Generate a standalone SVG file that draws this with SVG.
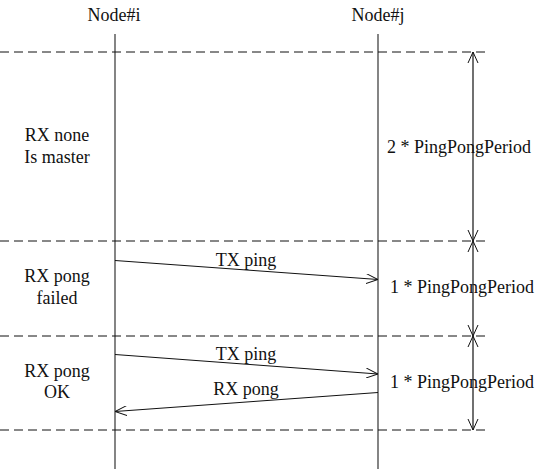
<svg xmlns="http://www.w3.org/2000/svg" width="539" height="469" viewBox="0 0 539 469" font-family="'Liberation Serif', serif">
<style>
text{font-family:'Liberation Serif',serif;font-size:18px;fill:#111}
.c{text-anchor:middle}
.life{stroke:#333;stroke-width:1.2;fill:none}
.dash{stroke:#111;stroke-width:1;stroke-dasharray:9,5;fill:none}
.msg{stroke:#111;stroke-width:1;fill:none;marker-end:url(#open)}
.dim{stroke:#111;stroke-width:1.2;fill:none}
.head{stroke:#111;stroke-width:1;fill:none}
</style>
<defs>
<marker id="open" viewBox="0 0 12 10" refX="12" refY="5" markerWidth="12" markerHeight="10" markerUnits="userSpaceOnUse" orient="auto">
<path d="M0,0 L12,5 L0,10" fill="none" stroke="#111" stroke-width="1"/>
</marker>
</defs>
<g id="node-i">
<text class="c" x="114" y="21">Node#i</text>
<line class="life" x1="115" y1="34" x2="115" y2="469"/>
</g>
<g id="node-j">
<text class="c" x="378" y="21">Node#j</text>
<line class="life" x1="378" y1="34" x2="378" y2="469"/>
</g>
<g id="separators">
<line class="dash" x1="0" y1="52" x2="489" y2="52"/>
<line class="dash" x1="0" y1="241" x2="489" y2="241"/>
<line class="dash" x1="0" y1="336" x2="489" y2="336"/>
<line class="dash" x1="0" y1="430" x2="489" y2="430"/>
</g>
<g id="period-dimension">
<line class="dim" x1="473" y1="52" x2="473" y2="430"/>
<path class="head" d="M468,63 L473,52 L478,63"/>
<path class="head" d="M468,230 L473,241 L478,230"/>
<path class="head" d="M468,252 L473,241 L478,252"/>
<path class="head" d="M468,325 L473,336 L478,325"/>
<path class="head" d="M468,347 L473,336 L478,347"/>
<path class="head" d="M468,419 L473,430 L478,419"/>
<text x="387" y="153">2 * PingPongPeriod</text>
<text x="390" y="293">1 * PingPongPeriod</text>
<text x="390" y="388">1 * PingPongPeriod</text>
</g>
<g id="state-labels">
<text class="c" x="57" y="141">RX none</text>
<text class="c" x="57" y="163">Is master</text>
<text class="c" x="57" y="282">RX pong</text>
<text class="c" x="57" y="304">failed</text>
<text class="c" x="57" y="377">RX pong</text>
<text class="c" x="57" y="398">OK</text>
</g>
<g id="connectors">
<line class="msg" x1="115" y1="260.5" x2="378" y2="279.5"/>
<text class="c" x="246" y="266">TX ping</text>
<line class="msg" x1="115" y1="354.5" x2="378" y2="374"/>
<text class="c" x="246" y="360">TX ping</text>
<line class="msg" x1="378" y1="392.5" x2="115" y2="411.5"/>
<text class="c" x="246" y="395">RX pong</text>
</g>
</svg>
